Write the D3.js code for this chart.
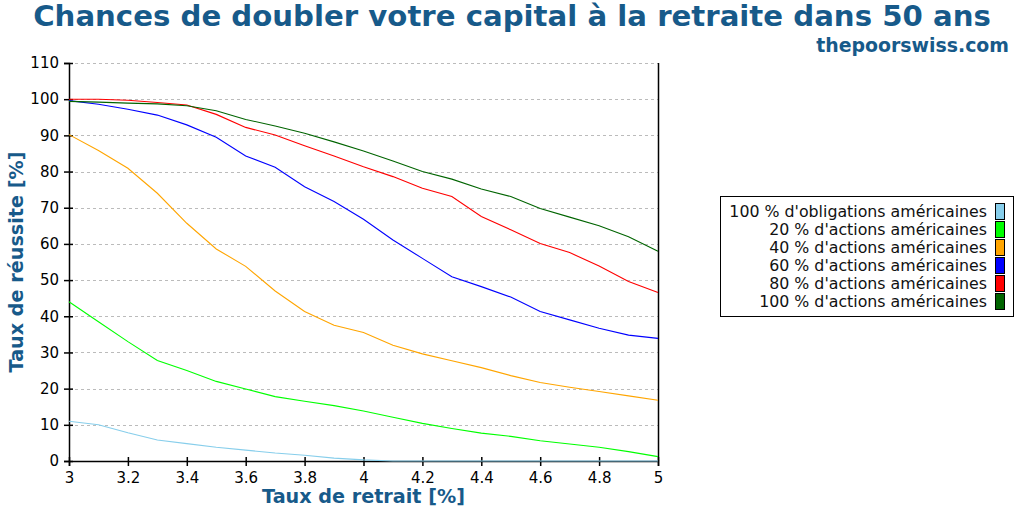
<!DOCTYPE html>
<html><head><meta charset="utf-8">
<script src="https://cdn.jsdelivr.net/npm/d3@7"></script>
<style>
body{margin:0;background:#fff;}
svg{display:block;font-family:"DejaVu Sans",sans-serif;}
</style></head>
<body>
<svg id="c" width="1024" height="512"></svg>
<script>
const rates = [3.0,3.1,3.2,3.3,3.4,3.5,3.6,3.7,3.8,3.9,4.0,4.1,4.2,4.3,4.4,4.5,4.6,4.7,4.8,4.9,5.0];
const bonds100  = [11,10,7.8,5.8,4.8,3.8,3.0,2.2,1.6,0.8,0.3,0,0,0,0,0,0,0,0,0,0];
const stocks20  = [44,38.5,33,27.8,25,22,19.9,17.8,16.5,15.3,13.8,12.1,10.4,9.0,7.7,6.8,5.6,4.7,3.8,2.6,1.2];
const stocks40  = [90.2,85.8,80.9,74,65.7,58.6,53.8,47,41.3,37.5,35.5,32,29.6,27.7,25.8,23.6,21.7,20.4,19.2,18,16.8];
const stocks60  = [99.6,98.6,97.2,95.6,92.9,89.5,84.3,81.2,75.8,71.7,66.8,61.1,56,50.9,48.2,45.3,41.3,39,36.7,34.8,33.9];
const stocks80  = [100,100,99.7,99.1,98.4,95.8,92.2,90.1,87.1,84.3,81.3,78.6,75.4,73.1,67.6,63.9,60.1,57.6,53.9,49.6,46.6];
const stocks100 = [99.4,99.2,98.9,98.7,98.2,96.8,94.4,92.6,90.6,88.2,85.7,82.9,80,77.9,75.2,73.1,69.8,67.4,65,62,58];
const seriesNames = ["100 % d'obligations américaines","20 % d'actions américaines","40 % d'actions américaines","60 % d'actions américaines","80 % d'actions américaines","100 % d'actions américaines"];
const seriesColors = ["#87ceeb","#00ff00","#ffa500","#0000ff","#ff0000","#006400"];
const seriesValues = [bonds100,stocks20,stocks40,stocks60,stocks80,stocks100];
const xTicks = [3,3.2,3.4,3.6,3.8,4,4.2,4.4,4.6,4.8,5];
const yTicks = [0,10,20,30,40,50,60,70,80,90,100,110];
const titleText = "Chances de doubler votre capital à la retraite dans 50 ans";
const subtitleText = "thepoorswiss.com";
const xLabel = "Taux de retrait [%]";
const yLabel = "Taux de réussite [%]";

const blue = "#175a8a";
const svg = d3.select("#c");
const L=69, R=658, T=63, B=461;
const x = d3.scaleLinear().domain([3,5]).range([L,R]);
const y = d3.scaleLinear().domain([0,110]).range([B,T]);

// grid
svg.append("g").selectAll("line").data(yTicks.filter(d=>d>0)).join("line")
  .attr("x1",L).attr("x2",R).attr("y1",d=>Math.round(y(d))+0.5).attr("y2",d=>Math.round(y(d))+0.5)
  .attr("stroke","#bbbbbb").attr("stroke-dasharray","3,3").attr("stroke-width",1);

// right border
svg.append("line").attr("x1",R+0.5).attr("x2",R+0.5).attr("y1",T).attr("y2",B)
  .attr("stroke","#000").attr("stroke-width",1.5);

// axes
const yAxis = svg.append("g").attr("transform",`translate(${L},0)`)
  .call(d3.axisLeft(y).tickValues(yTicks).tickSize(5).tickPadding(5).tickFormat(d3.format("d")));
const xAxis = svg.append("g").attr("transform",`translate(0,${B})`)
  .call(d3.axisBottom(x).tickValues(xTicks).tickSize(5).tickPadding(6).tickFormat(d=>String(+d.toFixed(1))));
[yAxis,xAxis].forEach(a=>{
  a.select(".domain").attr("stroke","#000").attr("stroke-width",1.5);
  a.selectAll(".tick line").attr("stroke","#000").attr("stroke-width",1.5);
  a.selectAll(".tick text").attr("font-family","DejaVu Sans").attr("font-size",15).attr("fill","#000");
});
// ticks crossing the axis
yAxis.selectAll(".tick line").attr("x1",4);
xAxis.selectAll(".tick line").attr("y1",-4).attr("y2",5);

// lines
const line = d3.line().x((d,i)=>x(rates[i])).y(d=>y(d));
svg.append("g").selectAll("path").data(seriesValues).join("path")
  .attr("d",d=>line(d)).attr("fill","none")
  .attr("stroke",(d,i)=>seriesColors[i]).attr("stroke-width",1.1);

// titles
svg.append("text").attr("x",512).attr("y",26).attr("text-anchor","middle")
  .attr("font-size",29.2).attr("font-weight","bold").attr("fill",blue).text(titleText);
svg.append("text").attr("x",1009).attr("y",52).attr("text-anchor","end")
  .attr("font-size",18.9).attr("font-weight","bold").attr("fill",blue).text(subtitleText);
svg.append("text").attr("x",(L+R)/2).attr("y",503).attr("text-anchor","middle")
  .attr("font-size",19.2).attr("font-weight","bold").attr("fill",blue).text(xLabel);
svg.append("text").attr("transform",`translate(23,${(T+B)/2}) rotate(-90)`).attr("text-anchor","middle")
  .attr("font-size",19.2).attr("font-weight","bold").attr("fill",blue).text(yLabel);

// legend
const lg = svg.append("g");
lg.append("rect").attr("x",720.5).attr("y",196.5).attr("width",293).attr("height",120)
  .attr("fill","#fff").attr("stroke","#000").attr("stroke-width",1);
const items = lg.selectAll("g.it").data(seriesNames).join("g").attr("class","it")
  .attr("transform",(d,i)=>`translate(0,${203+i*18})`);
items.append("rect").attr("x",995.5).attr("y",0.5).attr("width",9).attr("height",16)
  .attr("fill",(d,i)=>seriesColors[i]).attr("stroke","#000").attr("stroke-width",1);
items.append("text").attr("x",987).attr("y",14).attr("text-anchor","end")
  .attr("font-size",15.8).attr("fill","#111").text(d=>d);
</script>
</body></html>
